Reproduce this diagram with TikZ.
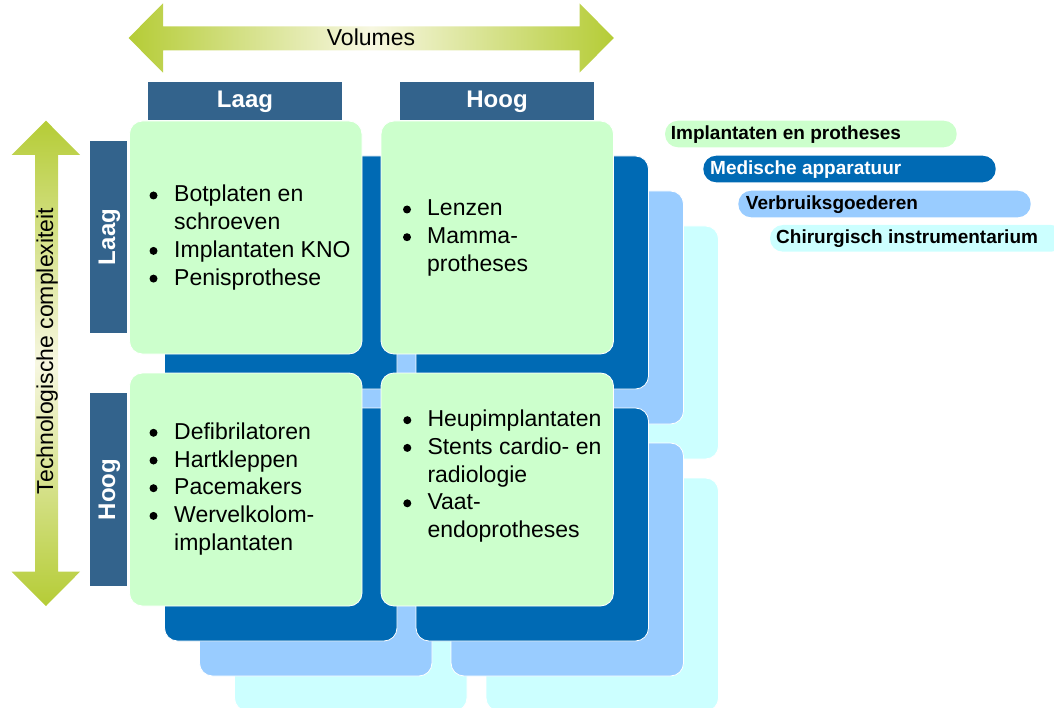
\documentclass[tikz,border=0pt]{standalone}
\usepackage{fontspec}
\setmainfont{Liberation Sans}
\definecolor{hdr}{RGB}{51,99,140}
\definecolor{dblue}{RGB}{0,106,180}
\definecolor{lblue}{RGB}{153,204,255}
\definecolor{cyanL}{RGB}{204,255,255}
\definecolor{greenL}{RGB}{204,255,204}
\definecolor{arrG}{RGB}{181,204,54}
\definecolor{arrP}{RGB}{247,247,225}
\tikzset{
  card/.style={rounded corners=13pt, draw=white, line width=0.8pt},
  hdrtext/.style={text=white, inner sep=0, anchor=base, font=\fontsize{24}{28}\selectfont\bfseries},
  body/.style={inner sep=0, anchor=base west, font=\fontsize{23}{27.7}\selectfont},
  axistext/.style={inner sep=0, anchor=base, font=\fontsize{23}{27.7}\selectfont},
  pill/.style={rounded corners=13pt},
  pilltext/.style={inner sep=0, anchor=base west, font=\fontsize{19}{22}\selectfont\bfseries},
  bulletdot/.style={fill=black},
}
\begin{document}
\begin{tikzpicture}[x=1pt,y=-1pt]
\useasboundingbox (0,0) rectangle (1054,708);
\clip (0,0) rectangle (1054,708);
% stacked layers
\foreach \d/\c in {105/cyanL,70/lblue,35/dblue,0/greenL}{
  \foreach \x/\y in {129.5/121,381/121,129.5/373,381/373}{
    \path[fill=\c, card] (\x+\d,\y+\d) rectangle ++(232.5,233);
  }
}
% horizontal arrow
\path[left color=arrG, right color=arrG, middle color=arrP]
  (128.6,38) -- (163,3.3) -- (163,26.5) -- (579.5,26.5) -- (579.5,3.3) -- (613.8,38)
  -- (579.5,72.7) -- (579.5,50.5) -- (163,50.5) -- (163,72.7) -- cycle;
\node[axistext] (vol) at (371,46) {Volumes};
% vertical arrow
\path[top color=arrG, bottom color=arrG, middle color=arrP]
  (46,120.7) -- (80,155) -- (58,155) -- (58,571.7) -- (80,571.7) -- (46,606)
  -- (11.7,571.7) -- (35,571.7) -- (35,155) -- (11.7,155) -- cycle;
\node[axistext, rotate=90] (tech) at (53,351) {Technologische complexiteit};
% headers
\fill[hdr] (148.3,81.7) rectangle (341.7,120);
\fill[hdr] (400.4,81.7) rectangle (593.7,120);
\node[hdrtext] (hlaag) at (245,107.3) {Laag};
\node[hdrtext] (hhoog) at (497,107.3) {Hoog};
\fill[hdr] (90,140.7) rectangle (127.3,332.7);
\fill[hdr] (90,392.7) rectangle (127.3,586);
\node[hdrtext, rotate=90] (vlaag) at (115,237) {Laag};
\node[hdrtext, rotate=90] (vhoog) at (115,489.5) {Hoog};
% card texts
\node[body] (tl) at (174,202) {\parbox[t]{200pt}{\raggedright
  Botplaten en\\ schroeven\\ Implantaten KNO\\ Penisprothese}};
\node[body] (tr) at (427,216) {\parbox[t]{200pt}{\raggedright
  Lenzen\\ Mamma-\\ protheses}};
\node[body] (bl) at (174,439.3) {\parbox[t]{200pt}{\raggedright
  Defibrilatoren\\ Hartkleppen\\ Pacemakers\\ Wervelkolom-\\ implantaten}};
\node[body] (br) at (427.3,426.7) {\parbox[t]{200pt}{\raggedright
  Heupimplantaten\\ Stents cardio- en\\ radiologie\\ Vaat-\\ endoprotheses}};
% bullets
\foreach \bx/\by in {153.5/195.5, 153.5/250.9, 153.5/278.6,
                     407/209.5, 407/237.2,
                     153.5/432.8, 153.5/460.5, 153.5/488.2, 153.5/515.9,
                     407.3/420.2, 407.3/447.9, 407.3/503.3}{
  \fill[bulletdot] (\bx,\by) circle[radius=4pt];
}
% legend
\path[fill=greenL, pill] (665,120.7) rectangle (956.7,147.3);
\node[pilltext] (lg1) at (670.7,139.3) {Implantaten en protheses};
\path[fill=dblue, pill] (703.3,155.7) rectangle (995.7,182.3);
\node[pilltext, text=white] (lg2) at (710,175) {Medische apparatuur};
\path[fill=lblue, pill] (738.3,190.7) rectangle (1030.7,217.3);
\node[pilltext] (lg3) at (745.7,210) {Verbruiksgoederen};
\path[fill=cyanL, pill] (770,225) rectangle (1064,251.7);
\node[pilltext] (lg4) at (776,244) {Chirurgisch instrumentarium};
\end{tikzpicture}
\end{document}
